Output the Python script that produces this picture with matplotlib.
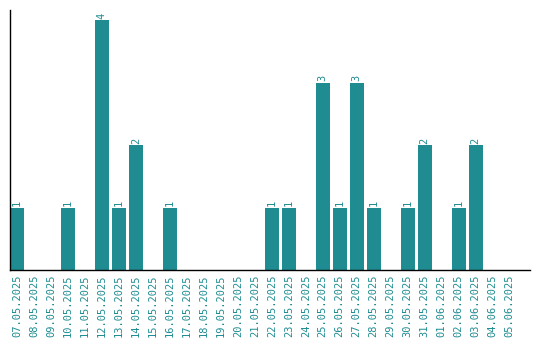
import matplotlib
matplotlib.use("Agg")
import matplotlib.pyplot as plt

# Datas e contagens diárias
datas = ["07.05.2025", "08.05.2025", "09.05.2025", "10.05.2025", "11.05.2025",
         "12.05.2025", "13.05.2025", "14.05.2025", "15.05.2025", "16.05.2025",
         "17.05.2025", "18.05.2025", "19.05.2025", "20.05.2025", "21.05.2025",
         "22.05.2025", "23.05.2025", "24.05.2025", "25.05.2025", "26.05.2025",
         "27.05.2025", "28.05.2025", "29.05.2025", "30.05.2025", "31.05.2025",
         "01.06.2025", "02.06.2025", "03.06.2025", "04.06.2025", "05.06.2025"]
valores = [1, 0, 0, 1, 0, 4, 1, 2, 0, 1,
           0, 0, 0, 0, 0, 1, 1, 0, 3, 1,
           3, 1, 0, 1, 2, 0, 1, 2, 0, 0]

cor = "#1e8c91"
fonte = "DejaVu Sans Mono"

fig = plt.figure(figsize=(5.4, 3.4), dpi=100)
ax = fig.add_axes([10 / 540, 70 / 340, 520 / 540, 260 / 340])

x = list(range(len(datas)))
ax.bar(x, valores, width=0.82, color=cor)

# rótulos de valor acima das barras
for i, v in enumerate(valores):
    if v > 0:
        ax.annotate(str(v), (i, v), textcoords="offset points", xytext=(0, 1),
                    ha="center", va="bottom", rotation=90, fontsize=7.5,
                    color=cor, family=fonte)

ax.set_xticks(x)
ax.set_xticklabels(datas, rotation=90, fontsize=7.5, color=cor, family=fonte)
ax.tick_params(axis="x", length=0, pad=3)
ax.set_yticks([])
ax.set_xlim(-0.41, 30.2)
ax.set_ylim(0, 4.16)

for lado in ["top", "right"]:
    ax.spines[lado].set_visible(False)
ax.spines["left"].set_linewidth(1.0)
ax.spines["bottom"].set_linewidth(1.0)

fig.savefig("out.png", dpi=100)
